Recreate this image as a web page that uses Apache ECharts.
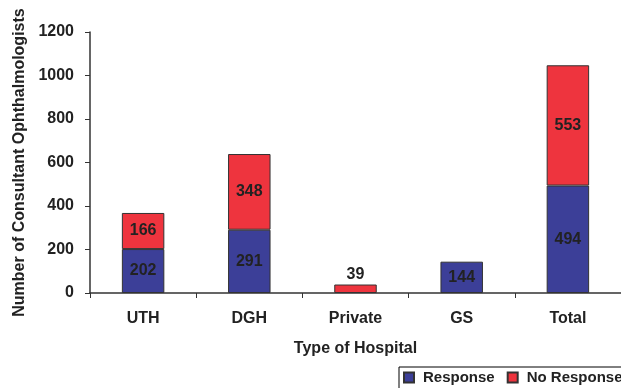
<!DOCTYPE html>
<html>
<head>
<meta charset="utf-8">
<script src="https://cdn.jsdelivr.net/npm/echarts@6/dist/echarts.min.js"></script>
<style>
  html, body { margin: 0; padding: 0; background: #fff; }
  #chart { width: 621px; height: 388px; }
</style>
</head>
<body>
<div id="chart"></div>
<script>
// Hospital types along the x axis
const categories = ['UTH', 'DGH', 'Private', 'GS', 'Total'];
// Consultants who responded / did not respond (null = no segment)
const responseValues = [202, 291, null, 144, 494];
const noResponseValues = [166, 348, 39, null, 553];
// Value axis ticks
const yTicks = [0, 200, 400, 600, 800, 1000, 1200];

const chart = echarts.init(document.getElementById('chart'));
const FONT = 'Liberation Sans, Arial, sans-serif';

const labelStyle = {
  show: true,
  position: 'inside',
  fontFamily: FONT,
  fontWeight: 'bold',
  fontSize: 16,
  color: '#222'
};

chart.setOption({
  animation: false,
  // the plot runs slightly past the right edge of the canvas
  grid: { left: 90, right: -12, top: 32, bottom: 95 },
  legend: {
    orient: 'horizontal',
    left: 399,
    top: 367,
    width: 300,
    itemWidth: 10,
    itemHeight: 10,
    itemGap: 12,
    borderColor: '#000',
    borderWidth: 1,
    borderRadius: 0,
    padding: [3, 12, 6, 4],
    icon: 'rect',
    textStyle: { fontFamily: FONT, fontWeight: 'bold', fontSize: 15, color: '#222', padding: [0, 0, 0, 4] },
    data: ['Response', 'No Response']
  },
  xAxis: {
    type: 'category',
    data: categories,
    name: 'Type of Hospital',
    nameLocation: 'middle',
    nameGap: 48,
    nameTextStyle: { fontFamily: FONT, fontWeight: 'bold', fontSize: 16, color: '#222' },
    axisLine: { lineStyle: { color: '#333', width: 1.5 } },
    axisTick: { show: true, length: 5, lineStyle: { color: '#333' } },
    axisLabel: { fontFamily: FONT, fontWeight: 'bold', fontSize: 16, color: '#222', margin: 18 }
  },
  yAxis: {
    type: 'value',
    min: yTicks[0],
    max: yTicks[yTicks.length - 1],
    interval: yTicks[1] - yTicks[0],
    name: 'Number of Consultant Ophthalmologists',
    nameLocation: 'middle',
    nameGap: 60,
    nameTextStyle: { fontFamily: FONT, fontWeight: 'bold', fontSize: 16, color: '#222' },
    axisLine: { show: true, lineStyle: { color: '#333', width: 1.5 } },
    axisTick: { show: true, length: 5, lineStyle: { color: '#333' } },
    axisLabel: {
      fontFamily: FONT, fontWeight: 'bold', fontSize: 16, color: '#222', margin: 16,
      formatter: v => String(v)
    },
    splitLine: { show: false }
  },
  series: [
    {
      name: 'Response',
      type: 'bar',
      stack: 'total',
      barWidth: '40%',
      data: responseValues,
      itemStyle: { color: '#3c3f98', borderColor: '#333', borderWidth: 1 },
      label: labelStyle
    },
    {
      name: 'No Response',
      type: 'bar',
      stack: 'total',
      barWidth: '40%',
      data: noResponseValues.map((v, i) => ({
        value: v,
        label: categories[i] === 'Private'
          ? Object.assign({}, labelStyle, { position: 'top', distance: 2 })
          : labelStyle
      })),
      itemStyle: { color: '#ee343e', borderColor: '#333', borderWidth: 1 },
      label: labelStyle
    }
  ]
});
</script>
</body>
</html>
